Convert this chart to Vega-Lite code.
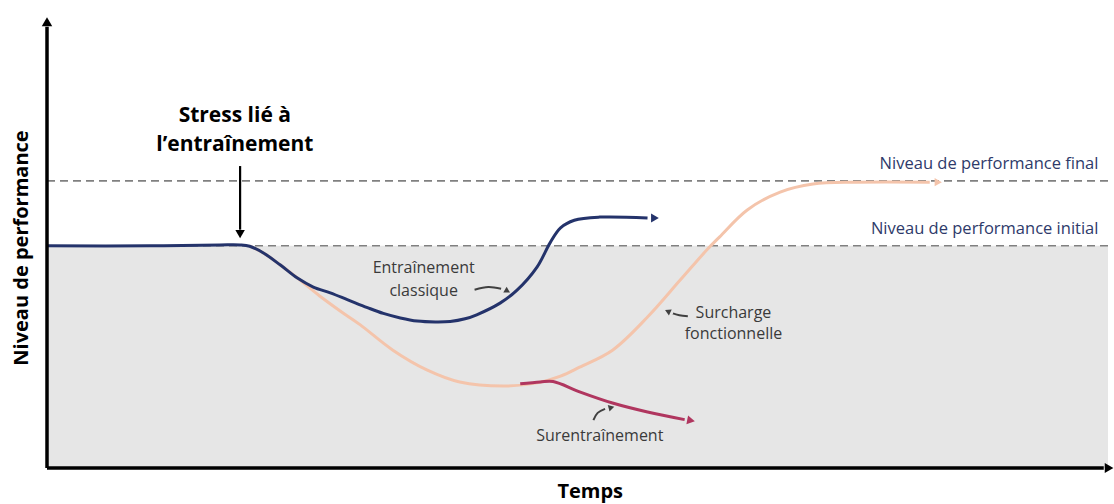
{
  "$schema": "https://vega.github.io/schema/vega-lite/v6.json",
  "width": 1061,
  "height": 448,
  "autosize": {"type": "none"},
  "padding": {"left": 47, "top": 20, "right": 6, "bottom": 36},
  "background": "white",
  "config": {"view": {"stroke": null}, "font": "Open Sans"},
  "datasets": {
    "zone": [{"t0": 0, "t1": 100, "p0": 0, "p1": 49.6}],
    "levels": [{"name": "final", "t0": 0, "t1": 100, "perf": 64.1}, {"name": "initial", "t0": 0, "t1": 100, "perf": 49.6}],
    "curves": [
      {"serie": "classique", "i": 0, "t": 0, "perf": 49.6},
      {"serie": "classique", "i": 1, "t": 9.7, "perf": 49.6},
      {"serie": "classique", "i": 2, "t": 16.3, "perf": 49.8},
      {"serie": "classique", "i": 3, "t": 18.2, "perf": 49.8},
      {"serie": "classique", "i": 4, "t": 19.1, "perf": 49.5},
      {"serie": "classique", "i": 5, "t": 20.4, "perf": 48.0},
      {"serie": "classique", "i": 6, "t": 22.0, "perf": 45.3},
      {"serie": "classique", "i": 7, "t": 23.6, "perf": 42.4},
      {"serie": "classique", "i": 8, "t": 25.1, "perf": 40.4},
      {"serie": "classique", "i": 9, "t": 26.7, "perf": 39.1},
      {"serie": "classique", "i": 10, "t": 28.3, "perf": 37.6},
      {"serie": "classique", "i": 11, "t": 30.2, "perf": 35.8},
      {"serie": "classique", "i": 12, "t": 31.7, "perf": 34.5},
      {"serie": "classique", "i": 13, "t": 33.3, "perf": 33.5},
      {"serie": "classique", "i": 14, "t": 34.9, "perf": 32.8},
      {"serie": "classique", "i": 15, "t": 36.6, "perf": 32.6},
      {"serie": "classique", "i": 16, "t": 38.0, "perf": 32.7},
      {"serie": "classique", "i": 17, "t": 39.4, "perf": 33.3},
      {"serie": "classique", "i": 18, "t": 40.5, "perf": 34.2},
      {"serie": "classique", "i": 19, "t": 42.7, "perf": 36.8},
      {"serie": "classique", "i": 20, "t": 44.3, "perf": 39.7},
      {"serie": "classique", "i": 21, "t": 46.2, "perf": 44.9},
      {"serie": "classique", "i": 22, "t": 47.4, "perf": 50.2},
      {"serie": "classique", "i": 23, "t": 48.4, "perf": 53.6},
      {"serie": "classique", "i": 24, "t": 49.7, "perf": 55.3},
      {"serie": "classique", "i": 25, "t": 52.1, "perf": 56.0},
      {"serie": "classique", "i": 26, "t": 56.6, "perf": 55.8},
      {"serie": "surcharge", "i": 0, "t": 19.1, "perf": 49.5},
      {"serie": "surcharge", "i": 1, "t": 20.4, "perf": 48.0},
      {"serie": "surcharge", "i": 2, "t": 22.0, "perf": 45.3},
      {"serie": "surcharge", "i": 3, "t": 23.6, "perf": 42.4},
      {"serie": "surcharge", "i": 4, "t": 25.7, "perf": 38.4},
      {"serie": "surcharge", "i": 5, "t": 27.9, "perf": 34.6},
      {"serie": "surcharge", "i": 6, "t": 29.5, "perf": 32.0},
      {"serie": "surcharge", "i": 7, "t": 32.6, "perf": 26.3},
      {"serie": "surcharge", "i": 8, "t": 35.8, "perf": 21.9},
      {"serie": "surcharge", "i": 9, "t": 38.9, "perf": 19.2},
      {"serie": "surcharge", "i": 10, "t": 43.0, "perf": 18.3},
      {"serie": "surcharge", "i": 11, "t": 46.2, "perf": 19.0},
      {"serie": "surcharge", "i": 12, "t": 48.4, "perf": 20.5},
      {"serie": "surcharge", "i": 13, "t": 50.2, "perf": 22.5},
      {"serie": "surcharge", "i": 14, "t": 53.3, "perf": 26.3},
      {"serie": "surcharge", "i": 15, "t": 56.6, "perf": 33.7},
      {"serie": "surcharge", "i": 16, "t": 59.7, "perf": 42.0},
      {"serie": "surcharge", "i": 17, "t": 62.2, "perf": 48.7},
      {"serie": "surcharge", "i": 18, "t": 63.4, "perf": 51.6},
      {"serie": "surcharge", "i": 19, "t": 66.0, "perf": 57.6},
      {"serie": "surcharge", "i": 20, "t": 69.1, "perf": 61.6},
      {"serie": "surcharge", "i": 21, "t": 72.2, "perf": 63.4},
      {"serie": "surcharge", "i": 22, "t": 76.3, "perf": 63.8},
      {"serie": "surcharge", "i": 23, "t": 83.2, "perf": 63.8},
      {"serie": "surentrainement", "i": 0, "t": 44.6, "perf": 18.8},
      {"serie": "surentrainement", "i": 1, "t": 46.5, "perf": 19.2},
      {"serie": "surentrainement", "i": 2, "t": 47.7, "perf": 19.3},
      {"serie": "surentrainement", "i": 3, "t": 50.2, "perf": 17.0},
      {"serie": "surentrainement", "i": 4, "t": 53.3, "perf": 14.5},
      {"serie": "surentrainement", "i": 5, "t": 56.6, "perf": 12.5},
      {"serie": "surentrainement", "i": 6, "t": 60.1, "perf": 10.8}
    ],
    "heads": [
      {"serie": "classique", "t": 57.3, "perf": 55.8},
      {"serie": "surcharge", "t": 84.0, "perf": 63.8},
      {"serie": "surentrainement", "t": 60.7, "perf": 10.6}
    ],
    "pointers": [
      {"id": "a", "i": 0, "t": 40.3, "perf": 39.8},
      {"id": "a", "i": 1, "t": 41.6, "perf": 40.4},
      {"id": "a", "i": 2, "t": 42.8, "perf": 40.0},
      {"id": "b", "i": 0, "t": 60.4, "perf": 33.9},
      {"id": "b", "i": 1, "t": 59.6, "perf": 34.1},
      {"id": "b", "i": 2, "t": 59.0, "perf": 34.5},
      {"id": "c", "i": 0, "t": 51.5, "perf": 10.7},
      {"id": "c", "i": 1, "t": 51.9, "perf": 12.3},
      {"id": "c", "i": 2, "t": 52.6, "perf": 13.2},
      {"id": "s", "i": 0, "t": 18.2, "perf": 67.4},
      {"id": "s", "i": 1, "t": 18.2, "perf": 53.2}
    ],
    "labels": [
      {"kind": "stress", "text": "Stress lié à", "t": 17.7, "perf": 78.6},
      {"kind": "stress", "text": "l’entraînement", "t": 17.7, "perf": 72.1},
      {"kind": "note", "text": "Entraînement", "t": 35.5, "perf": 44.6},
      {"kind": "note", "text": "classique", "t": 35.5, "perf": 39.5},
      {"kind": "note", "text": "Surcharge", "t": 64.7, "perf": 34.6},
      {"kind": "note", "text": "fonctionnelle", "t": 64.7, "perf": 29.9},
      {"kind": "note", "text": "Surentraînement", "t": 52.1, "perf": 7.1},
      {"kind": "level", "text": "Niveau de performance final", "t": 99.1, "perf": 67.9},
      {"kind": "level", "text": "Niveau de performance initial", "t": 99.1, "perf": 53.3}
    ]
  },
  "encoding": {
    "x": {"field": "t", "type": "quantitative", "scale": {"domain": [0, 100], "nice": false, "zero": false}, "axis": null},
    "y": {"field": "perf", "type": "quantitative", "scale": {"domain": [0, 100], "nice": false, "zero": false}, "axis": null}
  },
  "layer": [
    {
      "data": {"name": "zone"},
      "mark": {"type": "rect", "color": "#e6e6e6"},
      "encoding": {
        "x": {"field": "t0", "type": "quantitative"},
        "x2": {"field": "t1"},
        "y": {"field": "p0", "type": "quantitative"},
        "y2": {"field": "p1"}
      }
    },
    {
      "data": {"name": "levels"},
      "mark": {"type": "rule", "color": "#808080", "strokeWidth": 1.6, "strokeDash": [8, 5]},
      "encoding": {"x": {"field": "t0", "type": "quantitative"}, "x2": {"field": "t1"}}
    },
    {
      "data": {"name": "curves"},
      "transform": [{"filter": "datum.serie == 'surcharge'"}],
      "mark": {"type": "line", "color": "#f4c4ab", "strokeWidth": 3, "interpolate": "catmull-rom"},
      "encoding": {"order": {"field": "i", "type": "quantitative"}}
    },
    {
      "data": {"name": "curves"},
      "transform": [{"filter": "datum.serie == 'surentrainement'"}],
      "mark": {"type": "line", "color": "#b0365f", "strokeWidth": 3, "interpolate": "catmull-rom"},
      "encoding": {"order": {"field": "i", "type": "quantitative"}}
    },
    {
      "data": {"name": "curves"},
      "transform": [{"filter": "datum.serie == 'classique'"}],
      "mark": {"type": "line", "color": "#24336b", "strokeWidth": 3, "interpolate": "catmull-rom"},
      "encoding": {"order": {"field": "i", "type": "quantitative"}}
    },
    {
      "data": {"name": "heads"},
      "transform": [{"filter": "datum.serie == 'classique'"}],
      "mark": {"type": "point", "shape": "triangle-right", "filled": true, "size": 80, "color": "#24336b", "opacity": 1}
    },
    {
      "data": {"name": "heads"},
      "transform": [{"filter": "datum.serie == 'surcharge'"}],
      "mark": {"type": "point", "shape": "triangle-right", "filled": true, "size": 70, "color": "#f4c4ab", "opacity": 1}
    },
    {
      "data": {"name": "heads"},
      "transform": [{"filter": "datum.serie == 'surentrainement'"}],
      "mark": {"type": "point", "shape": "triangle-right", "filled": true, "size": 80, "color": "#b0365f", "opacity": 1, "angle": 11}
    },
    {
      "data": {"name": "pointers"},
      "transform": [{"filter": "datum.id != 's'"}],
      "mark": {"type": "line", "color": "#404040", "strokeWidth": 2, "interpolate": "catmull-rom"},
      "encoding": {"detail": {"field": "id"}, "order": {"field": "i", "type": "quantitative"}}
    },
    {
      "data": {"name": "pointers"},
      "transform": [{"filter": "datum.id == 's'"}],
      "mark": {"type": "line", "color": "#000000", "strokeWidth": 2.2},
      "encoding": {"order": {"field": "i", "type": "quantitative"}}
    },
    {
      "data": {"values": [{"t": 18.2, "perf": 52.2}]},
      "mark": {"type": "point", "shape": "triangle-down", "filled": true, "size": 90, "color": "#000000", "opacity": 1}
    },
    {
      "data": {"values": [{"t": 43.4, "perf": 39.5}]},
      "mark": {"type": "point", "shape": "triangle-right", "filled": true, "size": 45, "color": "#404040", "opacity": 1, "angle": 30}
    },
    {
      "data": {"values": [{"t": 58.5, "perf": 35.0}]},
      "mark": {"type": "point", "shape": "triangle-left", "filled": true, "size": 45, "color": "#404040", "opacity": 1, "angle": 25}
    },
    {
      "data": {"values": [{"t": 53.2, "perf": 13.5}]},
      "mark": {"type": "point", "shape": "triangle-right", "filled": true, "size": 45, "color": "#404040", "opacity": 1, "angle": -15}
    },
    {
      "data": {"name": "labels"},
      "transform": [{"filter": "datum.kind == 'stress'"}],
      "mark": {"type": "text", "fontSize": 21, "fontWeight": "bold", "color": "#000000", "align": "center", "baseline": "middle"},
      "encoding": {"text": {"field": "text"}}
    },
    {
      "data": {"name": "labels"},
      "transform": [{"filter": "datum.kind == 'note'"}],
      "mark": {"type": "text", "fontSize": 16, "color": "#3a3a3a", "align": "center", "baseline": "middle"},
      "encoding": {"text": {"field": "text"}}
    },
    {
      "data": {"name": "labels"},
      "transform": [{"filter": "datum.kind == 'level'"}],
      "mark": {"type": "text", "fontSize": 16.5, "color": "#2e3a6a", "align": "right", "baseline": "middle"},
      "encoding": {"text": {"field": "text"}}
    },
    {
      "data": {"values": [{"t": 0, "perf": 0}]},
      "mark": {"type": "rule", "color": "#000000", "strokeWidth": 3.5},
      "encoding": {"x2": {"datum": 99.6}}
    },
    {
      "data": {"values": [{"t": 0, "perf": 0}]},
      "mark": {"type": "rule", "color": "#000000", "strokeWidth": 3.5},
      "encoding": {"y2": {"datum": 98.5}}
    },
    {
      "data": {"values": [{"t": 0, "perf": 99.6}]},
      "mark": {"type": "point", "shape": "triangle-up", "filled": true, "size": 110, "color": "#000000", "opacity": 1}
    },
    {
      "data": {"values": [{"t": 100.1, "perf": 0}]},
      "mark": {"type": "point", "shape": "triangle-right", "filled": true, "size": 100, "color": "#000000", "opacity": 1}
    },
    {
      "data": {"values": [{"text": "Temps", "t": 51.2, "perf": -5.4}]},
      "mark": {"type": "text", "fontSize": 20, "fontWeight": "bold", "color": "#000000", "align": "center", "baseline": "middle"},
      "encoding": {"text": {"field": "text"}}
    },
    {
      "data": {"values": [{"text": "Niveau de performance", "t": -2.4, "perf": 49.1}]},
      "mark": {"type": "text", "fontSize": 20, "fontWeight": "bold", "color": "#000000", "align": "center", "baseline": "middle", "angle": 270},
      "encoding": {"text": {"field": "text"}}
    }
  ]
}
